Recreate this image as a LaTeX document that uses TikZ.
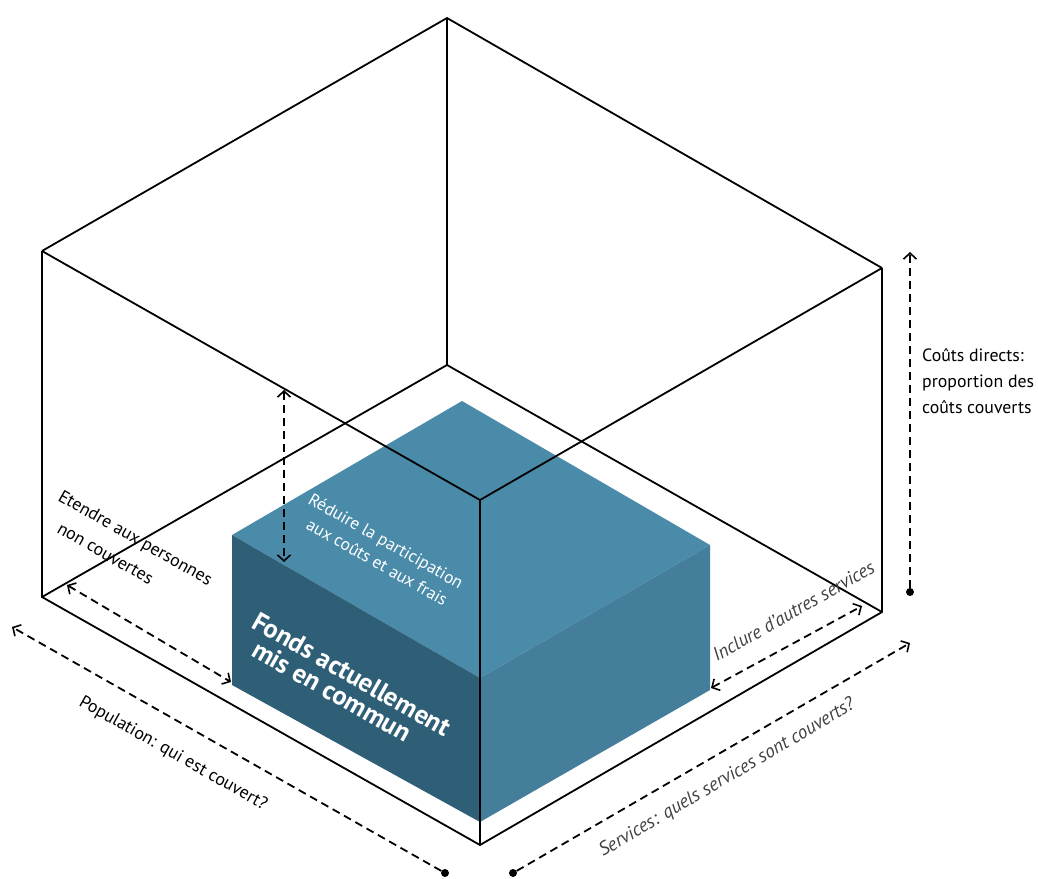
\documentclass[tikz,border=0pt]{standalone}
\usepackage{fontspec}
\setmainfont{PT Sans}
\usetikzlibrary{arrows.meta}
\definecolor{topc}{HTML}{4B8BAA}
\definecolor{leftc}{HTML}{2F5F77}
\definecolor{rightc}{HTML}{457E9B}
\definecolor{greytxt}{HTML}{404040}
\tikzset{
  edge/.style={line width=1.8pt, line join=miter},
  dim/.style={line width=1.8pt, dash pattern=on 8pt off 5pt},
  tipend/.style={-{Straight Barb[length=6pt,width=13pt,line width=1.6pt]}},
  bothend/.style={{Straight Barb[length=6pt,width=13pt,line width=1.6pt]}-{Straight Barb[length=6pt,width=13pt,line width=1.6pt]}},
  dotnode/.style={circle, fill=black, inner sep=0pt, minimum size=8pt},
  lbl/.style={font=\fontsize{17.8}{20}\selectfont, inner sep=0pt, anchor=base west},
  wlbl/.style={lbl, font=\fontsize{17.4}{20}\selectfont, text=white},
  ilbl/.style={lbl, font=\fontsize{19}{22}\selectfont\itshape, text=greytxt},
  blbl/.style={inner sep=0pt, anchor=base west, text=white, font=\fontsize{26.5}{30}\selectfont\bfseries}
}
\begin{document}
\begin{tikzpicture}[x=1pt,y=-1pt]
\useasboundingbox (0,0) rectangle (1038,878);
% outer wire box corners
\coordinate (A) at (447,18);
\coordinate (B) at (42,251);
\coordinate (C) at (882,268);
\coordinate (D) at (480,500);
\coordinate (E) at (447,365);
\coordinate (F) at (42,597);
\coordinate (G) at (882,612);
\coordinate (H) at (480,845);
% blue box corners
\coordinate (bt) at (462,401);
\coordinate (bl) at (232,535);
\coordinate (br) at (710,545);
\coordinate (bf) at (480,678);
\coordinate (bbl) at (232,685);
\coordinate (bbf) at (480,822);
\coordinate (bbr) at (710,690);
% back edges
\draw[edge] (A) -- (E);
\draw[edge] (F) -- (E) -- (G);
% blue box
\fill[topc] (bt) -- (br) -- (bf) -- (bl) -- cycle;
\fill[leftc] (bl) -- (bf) -- (bbf) -- (bbl) -- cycle;
\fill[rightc] (bf) -- (br) -- (bbr) -- (bbf) -- cycle;
% front edges
\draw[edge] (B) -- (A) -- (C);
\draw[edge] (B) -- (D) -- (C);
\draw[edge] (B) -- (F) -- (H) -- (G) -- (C);
\draw[edge] (D) -- (H);
% dimension arrows
\coordinate (v1a) at (284,390);
\coordinate (v1b) at (284,562);
\draw[dim,bothend] (v1a) -- (v1b);
\coordinate (eta) at (67,585);
\coordinate (etb) at (231,682);
\draw[dim,bothend] (eta) -- (etb);
\coordinate (inca) at (711,688);
\coordinate (incb) at (862,606);
\draw[dim,bothend] (inca) -- (incb);
\node[dotnode] (popdot) at (445,873) {};
\coordinate (poptip) at (12,627);
\draw[dim,tipend] (popdot) -- (poptip);
\node[dotnode] (servdot) at (513,873) {};
\coordinate (servtip) at (910,643);
\draw[dim,tipend] (servdot) -- (servtip);
\node[dotnode] (coutdot) at (910,592) {};
\coordinate (couttip) at (910,252);
\draw[dim,tipend] (coutdot) -- (couttip);
% labels
\node[lbl, rotate=-29.6] (et1) at (57,500) {Etendre aux personnes};
\node[lbl, rotate=-29.6] (et2) at (56,532) {non couvertes};
\node[wlbl, rotate=-29.6] (re1) at (307,503) {Réduire la participation};
\node[wlbl, rotate=-29.6] (re2) at (305,528) {aux coûts et aux frais};
\node[blbl, rotate=-29.6] (fo1) at (250,627) {Fonds actuellement};
\node[blbl, rotate=-29.6] (fo2) at (250,655) {mis en commun};
\node[lbl, rotate=-29.6] (pop) at (78,705) {Population: qui est couvert?};
\node[ilbl, rotate=30.5] (serv) at (603,857) {Services: quels services sont couverts?};
\node[ilbl, rotate=29.6] (incl) at (717,662) {Inclure d’autres services};
\node[inner sep=0pt, anchor=north west, align=left, font=\fontsize{17.8}{26}\selectfont] (couts) at (922,348) {Coûts directs:\\proportion des\\coûts couverts};
\end{tikzpicture}
\end{document}
